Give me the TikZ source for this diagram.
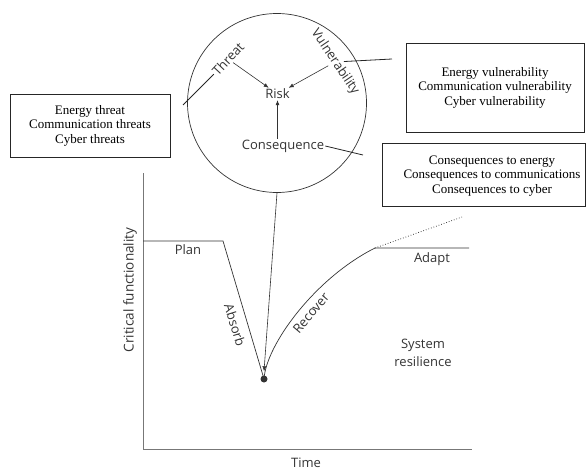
\documentclass[tikz,border=0pt]{standalone}
\usepackage{fontspec}
\setmainfont{Open Sans}
\newfontfamily\boxfont{Liberation Serif}
\usetikzlibrary{arrows.meta}
\definecolor{ink}{HTML}{333333}
\definecolor{axisgray}{HTML}{777777}
\tikzset{
  lab/.style={font=\fontsize{13}{15}\selectfont, text=ink, inner sep=1pt},
  tbox/.style={draw=black!85, line width=0.9pt, font=\boxfont\fontsize{13}{14.5}\selectfont, align=center, inner sep=0pt},
  btext/.style={font=\boxfont\fontsize{13}{14.5}\selectfont, align=center, inner sep=0pt},
  arr/.style={draw=ink, line width=0.6pt, -{Latex[length=5pt,width=4pt]}},
  conn/.style={draw=black!85, line width=0.8pt},
  curve/.style={draw=ink, line width=0.7pt},
  axis/.style={draw=axisgray, line width=1pt}
}
\begin{document}
\begin{tikzpicture}[x=1pt,y=-1pt]
\useasboundingbox (0,0) rectangle (588,471);
% risk circle
\node[circle, draw=ink, line width=0.7pt, minimum size=179pt, inner sep=0pt] (circ) at (277,103) {};
\node[lab, rotate=47] (threat) at (228,59) {Threat};
\node[lab, rotate=-56] (vuln) at (335,62) {Vulnerability};
\node[lab] (risk) at (277.5,94) {Risk};
\node[lab] (cons) at (283,146) {Consequence};
\draw[arr] (threat) -- (risk);
\draw[arr] (vuln) -- (risk);
\draw[arr] (cons.north -| risk) -- (risk);
% boxes
\node[tbox, minimum width=160pt, minimum height=63pt] (tb) at (90,125.5) {Energy threat\\Communication threats\\Cyber threats};
\node[tbox, minimum width=178pt, minimum height=89pt] (vb) at (495,87.5) {Energy vulnerability\\Communication vulnerability\\Cyber vulnerability};
\node[tbox, minimum width=203pt, minimum height=63pt] (cb) at (483.5,174.5) {};
\node[btext] (ct) at (492,176) {Consequences to energy\\Consequences to communications\\Consequences to cyber};
% connectors
\coordinate (tend) at (183,105);
\coordinate (vend) at (392,59);
\coordinate (cend) at (363,155);
\draw[conn] (threat.west) -- (tend);
\draw[conn] (vuln) -- (vend);
\draw[conn] (cons.east) -- (cend);
% axes
\coordinate (ytop) at (143,173);
\coordinate (origin) at (143,449);
\coordinate (xend) at (472,449);
\draw[axis] (ytop) -- (origin) -- (xend);
\node[lab, rotate=90, font=\fontsize{13.5}{15}\selectfont] (ylab) at (130,290) {Critical functionality};
\node[lab] (xlab) at (306,463) {Time};
% resilience curve
\coordinate (p0) at (143,241);
\coordinate (p1) at (223,241);
\node[circle, fill=ink, minimum size=7pt, inner sep=0pt] (dot) at (264,379) {};
\coordinate (r1) at (375,248);
\coordinate (a1) at (469,248);
\coordinate (d1) at (462,217);
\draw[curve] (p0) -- (p1) -- (dot.center);
\draw[curve] (dot.center) .. controls (266,345) and (315,278) .. (r1) -- (a1);
\draw[curve, dotted, line width=0.8pt] (r1) -- (d1);
\draw[arr] (circ.south) -- ([yshift=4pt]dot.north);
\node[lab] (plan) at (188,250) {Plan};
\node[lab, rotate=-73] (absorb) at (235,325) {Absorb};
\node[lab, rotate=50] (recover) at (311,313) {Recover};
\node[lab] (adapt) at (432,259) {Adapt};
\node[lab, align=center, font=\fontsize{13}{18}\selectfont] (sysres) at (423,353) {System\\resilience};
\end{tikzpicture}
\end{document}
